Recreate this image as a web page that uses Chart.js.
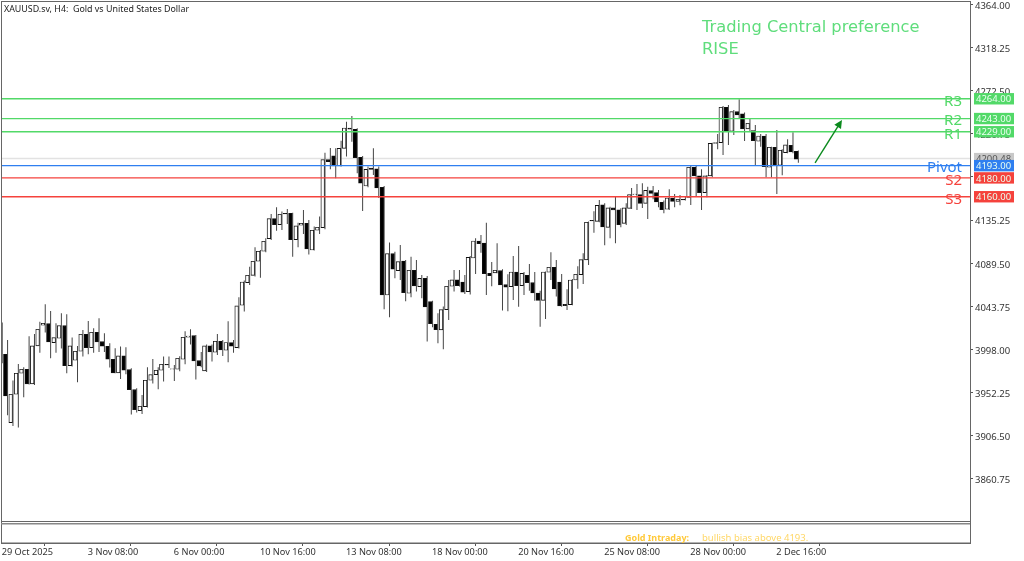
<!DOCTYPE html>
<html>
<head>
<meta charset="utf-8">
<title>XAUUSD H4</title>
<script src="https://cdn.jsdelivr.net/npm/chart.js@4.4.3/dist/chart.umd.min.js"></script>
<style>
html,body{margin:0;padding:0;background:#fff}
canvas{display:block}
</style>
</head>
<body>
<canvas id="c" width="1024" height="561"></canvas>
<script>
// candles
const opens = [4025.7,3992.8,3920.2,3950.3,3972.6,3976.9,3961.3,4001.6,4023.6,4025.3,4005.2,4009.8,4023.2,3980.7,3986.4,3996,4014,3999.8,4016.1,4006.2,4001.3,3987.5,3973,3991,3976.5,3955.3,3933,3937.2,3965.2,3971.2,3975.8,3982.2,3976.9,3976.9,3987.5,4010.8,4012.6,3986,3975.1,4001.6,3994.9,4006.6,3997,4005.2,3999.8,4044.8,
  4068.8,4076.6,4091.5,4102.1,4115.5,4136.8,4130.4,4142.4,4142.4,4114.5,4129.7,4131.8,4103.5,4124.4,4127.2,4199.4,4203.3,4192.7,4211.4,4233,4231.6,4201.9,4171.4,4190.5,4189.5,4170,4055.7,4099.6,4081.6,4091.8,4057.5,4081.9,4064.6,4073.4,4048.7,4024.6,4018.6,4040.2,4065,4071.7,4069.5,
  4059.3,4095,4113,4110.9,4078.7,4079.1,4081.6,4066.7,4064.6,4080.1,4065.6,4076.6,4068.8,4057.8,4050,4079.8,4085.1,4069.5,4045.8,4045.5,4071.6,4077.3,4092.9,4135,4133.9,4151.3,4127.5,4148.1,4146,4131.8,4147.7,4162.2,4162.2,4153,4166.5,4164.3,4154.1,4146.7,4158.7,4155.1,4157.3,
  4159.4,4191.3,4182.1,4164.4,4182.1,4216.7,4217.4,4255,4229.5,4250.4,4247.9,4232,4230.2,4218.9,4224.5,4191.3,4212.5,4193.4,4206.8,4214.6,4208.3];
const highs = [4026.5,4008,3964.8,3982.5,3979,4011.9,4014.4,4027.4,4045.8,4038.8,4025.7,4036.3,4035.2,4010.5,4001.6,4018.6,4028.2,4020.4,4031,4015.1,4004.4,3999.1,4000.9,4000.2,3977.9,3956.7,3949.6,3979,3987.8,3979,3990.3,3990.3,3981.5,3990.6,4017.2,4019.3,4013.3,3995.2,4003,4003,4014.4,4008,4027.8,4008,4053.3,4071,
  4085.8,4106.3,4103.5,4115.9,4141.7,4148.8,4144.2,4147,4143.1,4132.5,4146,4135.3,4128.3,4138.9,4206.8,4211.8,4211.4,4219.5,4239.7,4245.7,4232.6,4203.3,4192,4211.4,4192,4171.4,4111.3,4101.7,4108.8,4092.9,4096.4,4092.9,4077,4075.9,4049.7,4036.3,4043.4,4071.7,4082.3,4082.3,4077,
  4097.1,4115.9,4119.4,4132.5,4090.7,4110.6,4083,4077.7,4097.1,4107.7,4080.1,4088.6,4080.1,4060.3,4080.5,4101,4092.9,4078,4061.7,4072.7,4086.2,4099.9,4133.6,4144.5,4156.6,4153,4149.5,4160.1,4147.7,4153,4169.3,4173.5,4174.2,4170.7,4171.4,4167.2,4155.9,4167.9,4162.9,4161.9,4160.8,
  4192.7,4192.7,4189.1,4183.1,4217.4,4226.6,4256.4,4257.4,4252.1,4263.4,4249.3,4243.3,4236.2,4226.6,4226.6,4213.2,4230.9,4210.4,4221,4228.4,4209];
const lows = [3983.2,3928,3916.7,3914.9,3947.1,3960.6,3960.2,3994.5,4015.8,3988.5,3994.5,3998.8,3972.6,3979.7,3963.1,3990.3,3992.8,3994.5,3995.2,3995.2,3978.6,3972.6,3966.6,3971.5,3928.7,3930.9,3929.4,3936.2,3961.6,3955.6,3963.8,3978.3,3964.5,3974.7,3982.2,4003,3965.9,3979,3974,3985,3992.1,3991,3984.3,3994.5,3998.8,4038.1,
  4066.3,4075.2,4074.1,4101,4114.1,4124,4124.7,4131.1,4096.4,4106.3,4120.5,4098.6,4102.8,4120.5,4125.4,4189.1,4179.6,4192,4202.6,4218.5,4184.9,4144.9,4170,4183.1,4158.7,4040.5,4032,4073.4,4071.7,4049,4053.3,4059.3,4052.2,4006.2,4021.4,4004.4,3998,4029.2,4059.3,4064.6,4056.8,
  4056.1,4078,4100.6,4055.7,4064.9,4078.7,4039.1,4038.4,4050.4,4043.3,4055.7,4060.3,4049.7,4022.1,4030.3,4071.6,4054,4043.3,4039.8,4044.8,4062.4,4067.4,4087.6,4121.9,4132.9,4108.4,4115.9,4110.6,4127.5,4130,4147,4146,4148.1,4136.4,4157.3,4148.8,4142.4,4146,4148.8,4150.9,4155.9,
  4151.3,4160.1,4146,4159.4,4180.6,4210.4,4204.4,4215,4225.6,4243.3,4219.2,4229.1,4193.7,4213.2,4180.6,4180.6,4163,4182.8,4206.1,4206.1,4196.2];
const closes = [3992.8,3948.5,3950.3,3972.6,3976.9,3961.3,4001.6,4019.3,4025.7,4005.9,4010.5,4023.2,3980.7,4001.6,3996,4014,3999.8,4016.1,4005.9,4001.3,3987.5,3973,3991,3975.8,3955.3,3934,3937.6,3965.2,3971.2,3975.8,3982.2,3981.4,3977.2,3988.5,4010.8,4012.2,3985.7,3980.4,4001.6,3995.2,4006.6,3997.4,4005.2,4001.3,4044.1,4069.5,
  4076.6,4091.5,4102.1,4112.7,4136.8,4130.4,4141.4,4141.7,4114.5,4129,4131.8,4104.6,4124.4,4127.6,4199.4,4197.3,4192.7,4211.4,4233,4231.6,4201.5,4174.3,4189.1,4189.1,4169.3,4055.7,4099.6,4083,4091.1,4058.2,4081.9,4065.3,4073.4,4043,4025.3,4018.9,4040.2,4065,4071.7,4065.6,4058.6,
  4095.7,4113,4110.2,4078.4,4076.2,4081.9,4066.3,4063.9,4080.1,4065.6,4078.7,4068.8,4057.8,4050,4080.1,4085.1,4062.1,4044.1,4044.4,4071.6,4077.7,4093.2,4132.9,4134.3,4150.9,4127.9,4148.1,4146,4130.4,4148.1,4162.2,4162.9,4153,4166.8,4163.6,4154.4,4146.3,4158.7,4155.1,4157.3,4156.6,
  4191.3,4182.1,4164.4,4182.1,4216.7,4217.4,4255,4229.5,4250.4,4246.8,4232,4238,4219.6,4224.5,4192,4212.5,4193.7,4209.3,4215,4207.5,4199.8];

// slots on the time axis (empty room to the right of the last bar)
const slotCount = 181;
const tickSlots = [0,16,32,48,64,80,96,112,128,144];
const tickLabels = ['29 Oct 2025','3 Nov 08:00','6 Nov 00:00','10 Nov 16:00','13 Nov 08:00','18 Nov 00:00','20 Nov 16:00','25 Nov 08:00','28 Nov 00:00','2 Dec 16:00'];
const priceTicks = [4364,4318.25,4272.5,4226.75,4181,4135.25,4089.5,4043.75,3998,3952.25,3906.5,3860.75];

const levelNames = ['R3','R2','R1','Pivot','S2','S3'];
const levelValues = [4264,4243,4229,4193,4180,4160];
const levelColors = ['#52d968','#52d968','#52d968','#2f7ff0','#f5423c','#f5423c'];
const lastPrice = 4200.48;

const arrowFrom = [151.2,4195.9];
const arrowTo = [156.2,4241.5];

const FONT = '"Noto Sans", sans-serif';
const slots = Array.from({length:slotCount},(_,i)=>i);

// frame, sub window, level tags, captions
const overlay = {
  id:'overlay',
  afterDraw(chart){
    const ctx = chart.ctx, a = chart.chartArea, y = chart.scales.y, x = chart.scales.x;
    ctx.save();

    // frame
    ctx.strokeStyle = '#666';
    ctx.lineWidth = 1;
    ctx.strokeRect(1.5,1.5,a.right-1,a.bottom-1.5);
    ctx.fillStyle = '#666';
    ctx.fillRect(1,521,a.right-1,1);
    ctx.fillStyle = '#888';
    ctx.fillRect(1,523,a.right-1,1.5);

    // arrow
    const x0 = x.getPixelForValue(arrowFrom[0]), y0 = y.getPixelForValue(arrowFrom[1]);
    const x1 = x.getPixelForValue(arrowTo[0]), y1 = y.getPixelForValue(arrowTo[1]);
    const ang = Math.atan2(y1-y0,x1-x0);
    ctx.strokeStyle = ctx.fillStyle = '#0b8a1e';
    ctx.lineWidth = 1.4;
    ctx.beginPath(); ctx.moveTo(x0,y0); ctx.lineTo(x1-4*Math.cos(ang),y1-4*Math.sin(ang)); ctx.stroke();
    ctx.beginPath();
    ctx.moveTo(x1,y1);
    ctx.lineTo(x1-9*Math.cos(ang-0.45),y1-9*Math.sin(ang-0.45));
    ctx.lineTo(x1-9*Math.cos(ang+0.45),y1-9*Math.sin(ang+0.45));
    ctx.closePath(); ctx.fill();

    // price tags on the axis
    ctx.textBaseline = 'middle';
    ctx.textAlign = 'left';
    ctx.font = '9.5px '+FONT;
    const tag = (v,bg,fg)=>{
      const py = y.getPixelForValue(v);
      ctx.fillStyle = bg;
      ctx.fillRect(974,py-5.7,40,11.4);
      ctx.fillStyle = fg;
      ctx.fillText(v.toFixed(2),976,py+1);
    };
    tag(lastPrice,'#c8c8c8','#555');
    levelValues.forEach((v,i)=>tag(v,levelColors[i],'#eafff0'));

    // level names
    ctx.font = '15px '+FONT;
    ctx.textAlign = 'right';
    levelValues.forEach((v,i)=>{
      ctx.fillStyle = levelColors[i];
      ctx.fillText(levelNames[i],962,y.getPixelForValue(v)+2.5);
    });

    // captions
    ctx.textAlign = 'left';
    ctx.fillStyle = '#222';
    ctx.font = '8.9px '+FONT;
    ctx.fillText('XAUUSD.sv, H4:  Gold vs United States Dollar',4,9);
    ctx.fillStyle = '#5fdd7c';
    ctx.font = '16.3px "DejaVu Sans", sans-serif';
    ctx.fillText('Trading Central preference',702,28);
    ctx.fillText('RISE',702,50);
    ctx.font = 'bold 9px '+FONT;
    ctx.fillStyle = '#ffc93a';
    ctx.fillText('Gold Intraday:',625,538);
    ctx.font = '9.5px '+FONT;
    ctx.fillStyle = '#ffd766';
    ctx.fillText('bullish bias above 4193.',702,538);
    ctx.restore();
  }
};

const levelSets = levelValues.map((v,i)=>({
  type:'line', data:slots.map(()=>v), borderColor:levelColors[i], borderWidth:1.3,
  pointRadius:0, order:0
}));

new Chart(document.getElementById('c'),{
  type:'bar',
  data:{
    labels:slots,
    datasets:[
      ...levelSets,
      {
        data:opens.map((o,i)=>[o,closes[i]]),
        backgroundColor:opens.map((o,i)=>closes[i]<o?'#000':'#fff'),
        borderColor:'#111', borderWidth:0.9, borderSkipped:false, barThickness:3.6, order:1
      },
      {
        data:lows.map((l,i)=>[l,highs[i]]),
        backgroundColor:'#444', borderWidth:0, inflateAmount:0, barThickness:1, order:2
      },
      {
        type:'line', data:slots.map(()=>lastPrice), borderColor:'#e2e2e2', borderWidth:1.5,
        pointRadius:0, order:3
      }
    ]
  },
  options:{
    responsive:false,
    animation:false,
    events:[],
    layout:{padding:{left:1.7,top:1,right:0,bottom:0}},
    plugins:{legend:{display:false},tooltip:{enabled:false}},
    scales:{
      x:{
        grouped:false,
        offset:false,
        afterBuildTicks(s){ s.ticks = tickSlots.map(v=>({value:v})); },
        afterFit(s){ s.height = 18; s.paddingLeft = 0; s.paddingRight = 0; },
        grid:{drawOnChartArea:false,color:'#555',tickLength:3},
        border:{color:'#666'},
        ticks:{
          autoSkip:false, maxRotation:0, align:'start', padding:1, color:'#333',
          font:{family:FONT,size:9.2},
          callback:(v)=>tickLabels[tickSlots.indexOf(v)]
        }
      },
      y:{
        position:'right',
        min:3792.4, max:4367.8,
        afterBuildTicks(s){ s.ticks = priceTicks.map(v=>({value:v})); },
        afterFit(s){ s.width = 54; s.paddingTop = 0; s.paddingBottom = 0; },
        grid:{drawOnChartArea:false,color:'#555',tickLength:3},
        border:{color:'#666'},
        ticks:{
          padding:2, labelOffset:1.7, color:'#333', font:{family:FONT,size:9.5},
          callback:(v)=>v.toFixed(2)
        }
      }
    }
  },
  plugins:[overlay]
});
</script>
</body>
</html>
